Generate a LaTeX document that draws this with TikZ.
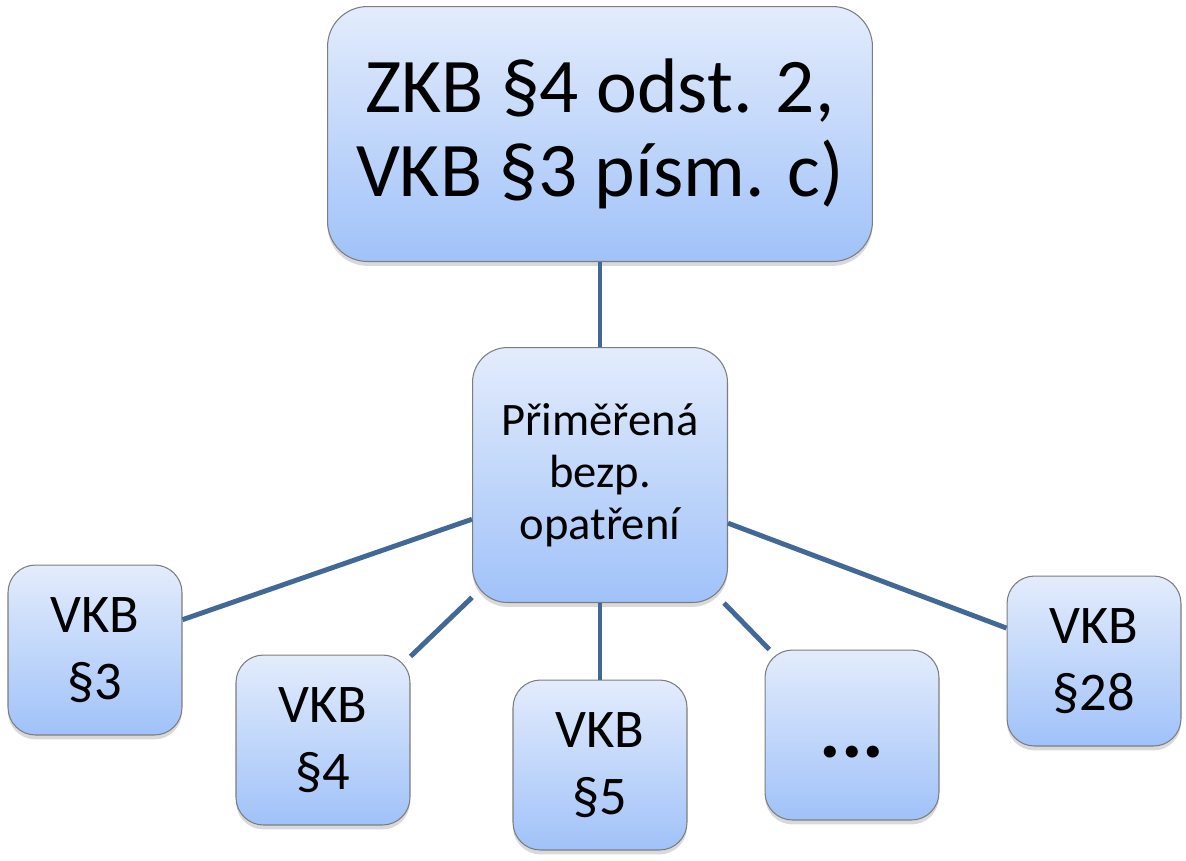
\documentclass[tikz,border=0pt]{standalone}
\usepackage{fontspec}
\setmainfont{Carlito}
\usepackage{xcolor}
\usetikzlibrary{shadows,positioning}
\definecolor{boxtop}{RGB}{227,236,252}
\definecolor{boxbottom}{RGB}{160,194,249}
\definecolor{boxedge}{RGB}{125,125,125}
\definecolor{linkblue}{RGB}{66,104,150}

\begin{document}
\begin{tikzpicture}[
    x=0.02cm, y=-0.02cm,
    box/.style={rectangle, draw=boxedge, line width=0.6pt, top color=boxtop, bottom color=boxbottom, align=center, inner sep=0pt, drop shadow={opacity=0.3, shadow xshift=0pt, shadow yshift=-2.5pt}},
    law/.style={box, minimum width=10.9cm, minimum height=5.1cm, rounded corners=0.8cm, font=\fontsize{44}{47.5}\selectfont},
    hub/.style={box, minimum width=5.1cm, minimum height=5.1cm, rounded corners=0.7cm, font=\fontsize{26.5}{29.5}\selectfont},
    para/.style={box, minimum width=3.48cm, minimum height=3.4cm, rounded corners=0.55cm, font=\fontsize{31}{38}\selectfont},
    link/.style={draw=linkblue, line width=2.8pt}
]
\useasboundingbox (0,0) rectangle (1186,860);

\node[law] (zkb) at (600,134) {ZKB §4 odst. 2,\\VKB §3 písm. c)};
\node[hub] (measures) at (600,475) {Přiměřená\\bezp.\\opatření};

\node[para] (vkb3) at (95,650) {VKB\\§3};
\node[para] (vkb4) at (323,740) {VKB\\§4};
\node[para] (vkb5) at (600,765) {VKB\\§5};
\node[para, font=\fontsize{46}{50}\selectfont\bfseries, text height=33pt, text depth=7pt] (more) at (852,735) {...};
\node[para] (vkb28) at (1094,661) {VKB\\§28};

\draw[link] (zkb) -- (measures);
\foreach \leaf in {vkb3,vkb4,vkb5,more,vkb28}
  \draw[link] (measures) -- (\leaf);

\end{tikzpicture}
\end{document}
